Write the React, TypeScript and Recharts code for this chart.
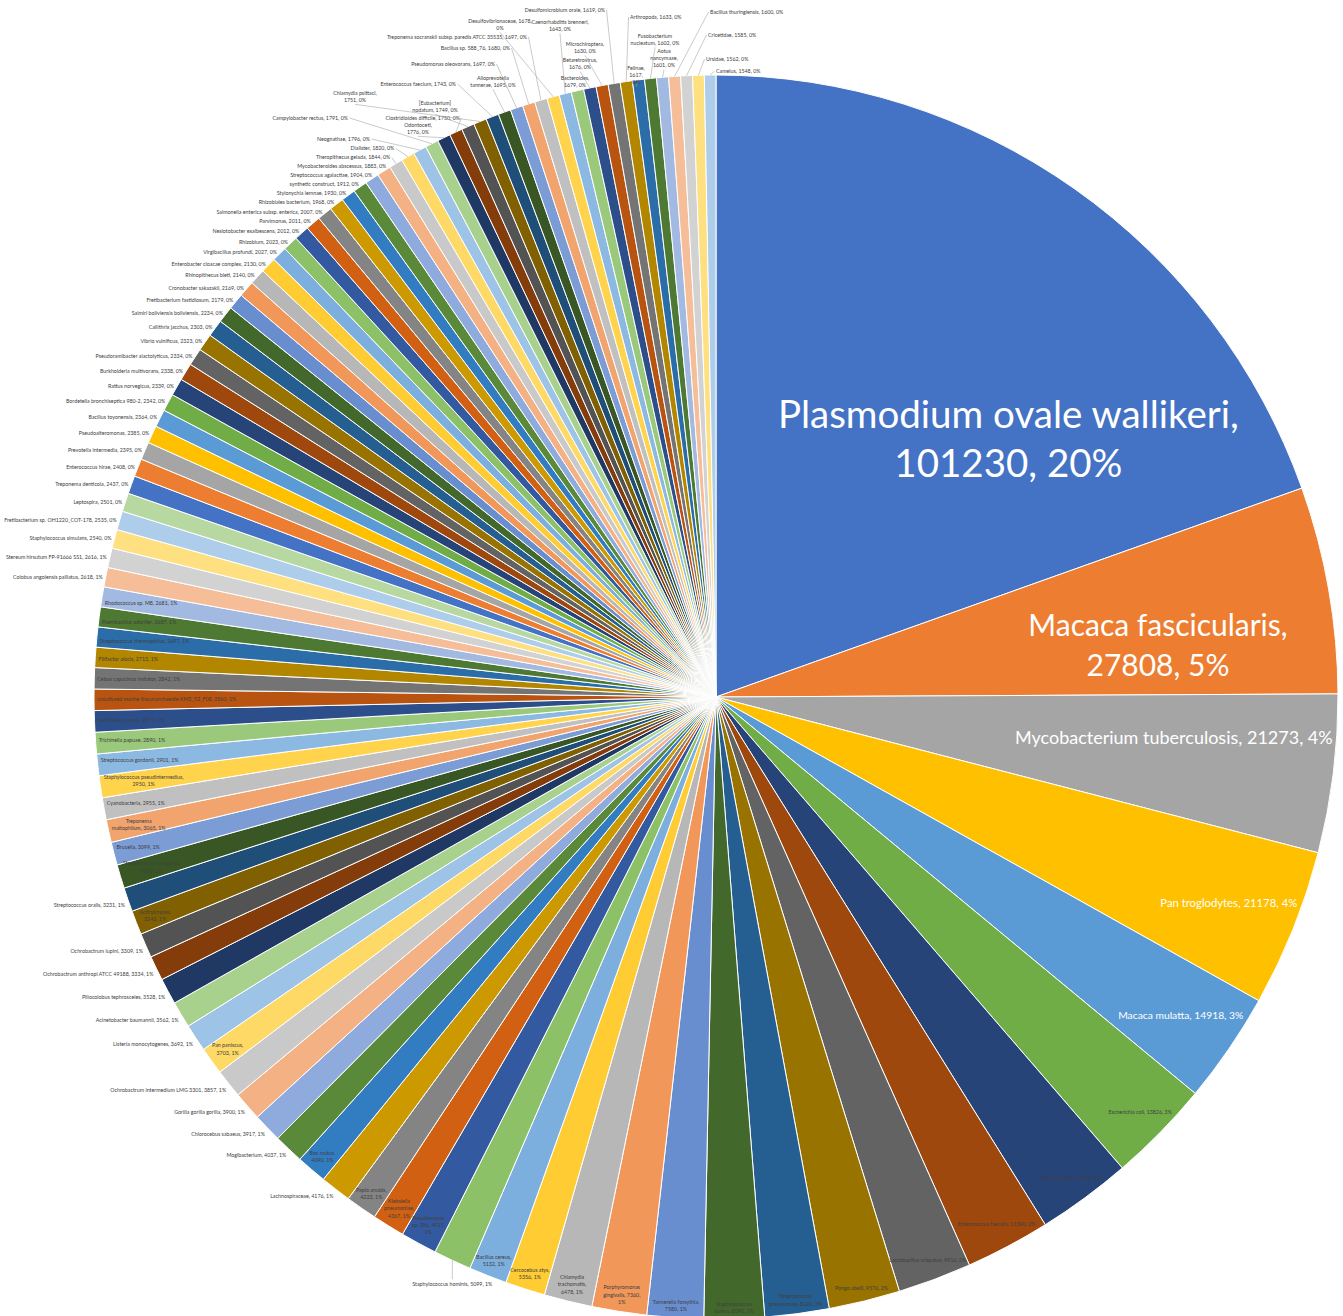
import { useMemo } from 'react'
import { PieChart, Pie, Cell } from 'recharts'

// Read counts per taxon, largest first, clockwise from 12 o'clock
const speciesNames: string[] = [
  'Plasmodium ovale wallikeri', 'Macaca fascicularis', 'Mycobacterium tuberculosis', 'Pan troglodytes',
  'Macaca mulatta', 'Escherichia coli', 'Homo sapiens', 'Enterococcus faecalis', 'Lactobacillus crispatus',
  'Pongo abelii', 'Streptococcus pneumoniae', 'Staphylococcus aureus', 'Tannerella forsythia',
  'Porphyromonas gingivalis', 'Chlamydia trachomatis', 'Cercocebus atys', 'Bacillus cereus',
  'Staphylococcus hominis', 'Pseudomonas sp. 286', 'Klebsiella pneumoniae', 'Papio anubis',
  'Lachnospiraceae', 'Bos mutus', 'Mogibacterium', 'Chlorocebus sabaeus', 'Gorilla gorilla gorilla',
  'Ochrobactrum intermedium LMG 3301', 'Pan paniscus', 'Listeria monocytogenes', 'Acinetobacter baumannii',
  'Piliocolobus tephrosceles', 'Ochrobactrum anthropi ATCC 49188', 'Ochrobactrum lupini', 'Actinomyces',
  'Streptococcus oralis', 'Streptococcus sanguinis', 'Brucella', 'Treponema maltophilum', 'Cyanobacteria',
  'Staphylococcus pseudintermedius', 'Streptococcus gordonii', 'Trichinella papuae', 'Veillonella parvula',
  'uncultured marine thaumarchaeote KM3_53_F08', 'Cebus capucinus imitator', 'Filifactor alocis',
  'Streptococcus thermophilus', 'Paenibacillus odorifer', 'Rhodococcus sp. M8', 'Colobus angolensis palliatus',
  'Stereum hirsutum FP-91666 SS1', 'Staphylococcus simulans', 'Fretibacterium sp. OH1220_COT-178', 'Leptospira',
  'Treponema denticola', 'Enterococcus hirae', 'Prevotella intermedia', 'Pseudoalteromonas', 'Bacillus toyonensis',
  'Bordetella bronchiseptica 980-2', 'Rattus norvegicus', 'Burkholderia multivorans', 'Pseudoramibacter alactolyticus',
  'Vibrio vulnificus', 'Callithrix jacchus', 'Saimiri boliviensis boliviensis', 'Fretibacterium fastidiosum',
  'Cronobacter sakazakii', 'Rhinopithecus bieti', 'Enterobacter cloacae complex', 'Virgibacillus profundi',
  'Rhizobium', 'Nesiotobacter exalbescens', 'Parvimonas', 'Salmonella enterica subsp. enterica',
  'Rhizobiales bacterium', 'Stylonychia lemnae', 'synthetic construct', 'Streptococcus agalactiae',
  'Mycobacteroides abscessus', 'Theropithecus gelada', 'Dialister', 'Neognathae', 'Campylobacter rectus',
  'Odontoceti', 'Clostridioides difficile', '[Eubacterium] nodatum', 'Chlamydia psittaci', 'Enterococcus faecium',
  'Alloprevotella tannerae', 'Pseudomonas oleovorans', 'Bacillus sp. 588_76',
  'Treponema socranskii subsp. paredis ATCC 35535', 'Desulfovibrionaceae', 'Caenorhabditis brenneri',
  'Bacteroides', 'Betaretrovirus', 'Microchiroptera', 'Desulfomicrobium orale', 'Arthropoda', 'Felinae',
  'Fusobacterium nucleatum', 'Aotus nancymaae', 'Bacillus thuringiensis', 'Cricetidae', 'Ursidae', 'Camelus',
]

const readCounts: number[] = [
  101230, 27808, 21273, 21178, 14918, 13826, 12690, 11390, 9916, 9576, 8626, 8091,
  7580, 7360, 6478, 5356, 5132, 5099, 4915, 4367, 4223, 4176, 4090, 4037,
  3917, 3900, 3857, 3703, 3692, 3562, 3528, 3334, 3309, 3243, 3231, 3200,
  3099, 3065, 2955, 2950, 2901, 2890, 2877, 2860, 2842, 2713, 2697, 2687,
  2681, 2618, 2616, 2540, 2535, 2501, 2437, 2408, 2395, 2385, 2364, 2342,
  2339, 2338, 2334, 2323, 2303, 2234, 2179, 2169, 2140, 2130, 2027, 2023,
  2012, 2011, 2007, 1968, 1930, 1912, 1904, 1883, 1844, 1820, 1796, 1791,
  1776, 1750, 1749, 1751, 1743, 1695, 1697, 1680, 1697, 1678, 1643, 1679,
  1676, 1630, 1619, 1633, 1617, 1602, 1601, 1600, 1585, 1562, 1548,
]

// Office theme accents and the tint/shade steps used past the sixth slice
const ACCENTS = ['#4472C4', '#ED7D31', '#A5A5A5', '#FFC000', '#5B9BD5', '#70AD47']
const SHADES: [number, number][] = [
  [1, 0], [0.6, 0], [0.8, 0.2], [0.8, 0], [0.6, 0.4], [0.5, 0], [0.7, 0.3], [0.7, 0], [0.5, 0.5],
]

function lumShift(hex: string, mod: number, off: number): string {
  const r = parseInt(hex.slice(1, 3), 16) / 255
  const g = parseInt(hex.slice(3, 5), 16) / 255
  const b = parseInt(hex.slice(5, 7), 16) / 255
  const max = Math.max(r, g, b), min = Math.min(r, g, b), d = max - min
  let h = 0, s = 0
  let l = (max + min) / 2
  if (d > 0) {
    s = d / (1 - Math.abs(2 * l - 1))
    if (max === r) h = ((g - b) / d) % 6
    else if (max === g) h = (b - r) / d + 2
    else h = (r - g) / d + 4
    h *= 60
    if (h < 0) h += 360
  }
  l = Math.min(1, Math.max(0, l * mod + off))
  const c = (1 - Math.abs(2 * l - 1)) * s
  const x = c * (1 - Math.abs(((h / 60) % 2) - 1))
  const m = l - c / 2
  const [r1, g1, b1] =
    h < 60 ? [c, x, 0] : h < 120 ? [x, c, 0] : h < 180 ? [0, c, x] : h < 240 ? [0, x, c] : h < 300 ? [x, 0, c] : [c, 0, x]
  const hx = (v: number) => Math.round((v + m) * 255).toString(16).padStart(2, '0')
  return '#' + hx(r1) + hx(g1) + hx(b1)
}

const sliceColor = (i: number) => {
  const [mod, off] = SHADES[Math.floor(i / 6) % SHADES.length]
  return lumShift(ACCENTS[i % 6], mod, off)
}

const CX = 716
const CY = 697
const R = 622
const FONT = 'Lato, "Open Sans", sans-serif'
const DARK = '#404040'
const LEADER = '#a6a6a6'

// words per line for wrapped labels
const wraps: Record<number, number[]> = {
  0: [3, 2], 1: [2, 2], 10: [1, 3], 11: [1, 3], 12: [2, 2], 13: [1, 2, 1], 14: [1, 1, 2],
  15: [2, 2], 16: [2, 2], 18: [1, 3, 1], 19: [1, 1, 2], 20: [2, 2], 22: [2, 2], 27: [2, 2],
  33: [1, 2], 35: [2, 2], 37: [1, 3], 39: [2, 2],
  84: [1, 2], 86: [1, 3], 87: [2, 2], 89: [1, 3], 93: [2, 1], 94: [2, 2], 95: [1, 2], 96: [1, 2],
  97: [1, 2], 100: [1, 1, 1], 101: [1, 3], 102: [1, 1, 2],
}
const fontSizes: Record<number, number> = { 0: 38.5, 1: 30, 2: 18, 3: 11.3, 4: 10.3 }
const lineGaps: Record<number, number> = { 0: 1.27, 1: 1.33 }
const spanPos: Record<number, number> = { 0: 0.69, 1: 0.67, 2: 0.36 }
const radiusPos: Record<number, number> = { 0: 390, 1: 445 }
const outside = new Set([21, 23, 24, 25, 26, 28, 29, 30, 31, 32, 34])

// crowded labels near 12 o'clock: [dx, dy, anchor] from the pie centre
const topLabels: Record<number, [number, number, 'start' | 'middle' | 'end']> = {
  82: [-346, -558, 'end'], 83: [-368, -579, 'end'], 84: [-298, -572, 'middle'], 85: [-256, -579, 'end'],
  86: [-281, -594, 'middle'], 87: [-361, -604, 'middle'], 88: [-260, -613, 'end'], 89: [-223, -619, 'middle'],
  90: [-221, -633, 'end'], 91: [-206, -649, 'end'], 92: [-189, -660, 'end'], 93: [-216, -676, 'middle'],
  94: [-156, -675, 'middle'], 95: [-141, -619, 'middle'], 96: [-136, -637, 'middle'], 97: [-131, -653, 'middle'],
  98: [-111, -687, 'end'], 99: [-86, -680, 'start'], 100: [-80, -629, 'middle'], 101: [-61, -661, 'middle'],
  102: [-52, -646, 'middle'], 103: [-6, -685, 'start'], 104: [-8, -662, 'start'], 105: [-10, -638, 'start'],
  106: [0, -626, 'start'],
}

const total = readCounts.reduce((a, b) => a + b, 0)
const rows = speciesNames.map((name, i) => ({ name, value: readCounts[i] }))

type LabelBox = {
  lines: string[]
  x: number
  y: number
  fs: number
  lh: number
  anchor: 'start' | 'middle' | 'end'
  color: string
  leader?: [number, number, number, number]
}

const pt = (deg: number, r: number): [number, number] => {
  const a = (deg * Math.PI) / 180
  return [CX + r * Math.sin(a), CY - r * Math.cos(a)]
}

let ctx: CanvasRenderingContext2D | null = null
function textWidth(s: string, fs: number) {
  if (!ctx) ctx = document.createElement('canvas').getContext('2d')
  if (!ctx) return s.length * fs * 0.5
  ctx.font = `${fs}px Lato`
  return ctx.measureText(s).width || s.length * fs * 0.5
}

function labelLines(i: number): string[] {
  const pct = Math.round((readCounts[i] / total) * 100)
  const words = `${speciesNames[i]}, ${readCounts[i]}, ${pct}%`.split(' ')
  const br = wraps[i]
  if (!br) return [words.join(' ')]
  const out: string[] = []
  let k = 0
  br.forEach((n, j) => {
    out.push(words.slice(k, j === br.length - 1 ? words.length : k + n).join(' '))
    k += n
  })
  return out
}

function buildLabels(): LabelBox[] {
  let acc = 0
  const spans = readCounts.map((v) => {
    const a0 = (acc / total) * 360
    acc += v
    return [a0, (acc / total) * 360]
  })
  const res: LabelBox[] = []
  let prevY = Infinity
  let prevX = -Infinity
  spans.forEach(([a0, a1], i) => {
    const lines = labelLines(i)
    const fs = fontSizes[i] ?? 5.3
    const lh = fs * (lineGaps[i] ?? 1.38)
    const color = i < 5 ? '#ffffff' : DARK
    const mid = (a0 + a1) / 2
    const rad = (mid * Math.PI) / 180
    const edge = pt(mid, R)

    if (topLabels[i]) {
      const [dx, dy, anchor] = topLabels[i]
      const x = CX + dx, y = CY + dy
      const ax = anchor === 'end' ? x + 1.5 : anchor === 'start' ? x - 1.5 : x
      const ay = anchor === 'middle' ? y + (lines.length - 1) * lh + lh * 0.55 : y
      const lead: [number, number, number, number] | undefined =
        Math.hypot(ax - edge[0], ay - edge[1]) > 5 ? [edge[0], edge[1], ax, ay] : undefined
      res.push({ lines, x, y, fs, lh, anchor, color, leader: lead })
      return
    }

    if (i === 17) {
      res.push({ lines, x: edge[0], y: edge[1] + 24, fs, lh, anchor: 'middle', color,
        leader: [edge[0], edge[1], edge[0], edge[1] + 19] })
      return
    }

    if (outside.has(i) || i >= 49) {
      const e = pt(mid, R + 2)
      const left = Math.sin(rad) < 0
      let y = e[1] + (Math.cos(rad) > 0 ? 0 : 5)
      let x = e[0] + (left ? -1 : 1)
      let leader: [number, number, number, number] | undefined
      if (i >= 49) {
        const natY = y
        y = Math.min(natY, prevY - 9)
        const ex = CX - Math.sqrt(Math.max(0, (R + 2) ** 2 - (y - CY) ** 2)) - 1
        x = ex
        if (natY - y > 3) {
          x = Math.min(ex, prevX + 4)
          leader = [edge[0], edge[1], x + 1.5, y]
        }
        prevY = y
        prevX = x
      }
      res.push({ lines, x, y, fs, lh, anchor: left ? 'end' : 'start', color, leader })
      return
    }

    // inside the slice, pushed out towards the rim
    const th = a0 + (spanPos[i] ?? 0.5) * (a1 - a0)
    const w = Math.max(...lines.map((s) => textWidth(s, fs)))
    const h = lines.length * lh
    const tr = (th * Math.PI) / 180
    const half = Math.abs(Math.sin(tr)) * (w / 2) + Math.abs(Math.cos(tr)) * (h / 2)
    const r = radiusPos[i] ?? R - half - 3
    const [x, yc] = pt(th, r)
    res.push({ lines, x, y: yc - ((lines.length - 1) * lh) / 2, fs, lh, anchor: 'middle', color })
  })
  return res
}

export default function App() {
  const labels = useMemo(() => buildLabels(), [])

  const renderLabel = (props: any) => {
    const i: number = props.index ?? speciesNames.indexOf(props.name)
    const L = labels[i]
    if (!L) return null
    return (
      <g key={`lab-${i}`}>
        {L.leader && (
          <line x1={L.leader[0]} y1={L.leader[1]} x2={L.leader[2]} y2={L.leader[3]} stroke={LEADER} strokeWidth={0.6} />
        )}
        <text textAnchor={L.anchor} fontSize={L.fs} fill={L.color} fontFamily={FONT}>
          {L.lines.map((s, k) => (
            <tspan key={k} x={L.x} y={L.y + k * L.lh + L.fs * 0.35}>
              {s}
            </tspan>
          ))}
        </text>
      </g>
    )
  }

  return (
    <div style={{ position: 'absolute', left: 0, top: 0, width: 1343, height: 1316, background: '#fff' }}>
      <PieChart width={1343} height={1316} margin={{ top: 0, right: 0, bottom: 0, left: 0 }}>
        <Pie
          data={rows}
          dataKey="value"
          nameKey="name"
          cx={CX}
          cy={CY}
          outerRadius={R}
          startAngle={90}
          endAngle={-270}
          stroke="#ffffff"
          strokeWidth={1}
          label={renderLabel}
          labelLine={false}
          isAnimationActive={false}
        >
          {rows.map((r, i) => (
            <Cell key={r.name} fill={sliceColor(i)} />
          ))}
        </Pie>
      </PieChart>
    </div>
  )
}
